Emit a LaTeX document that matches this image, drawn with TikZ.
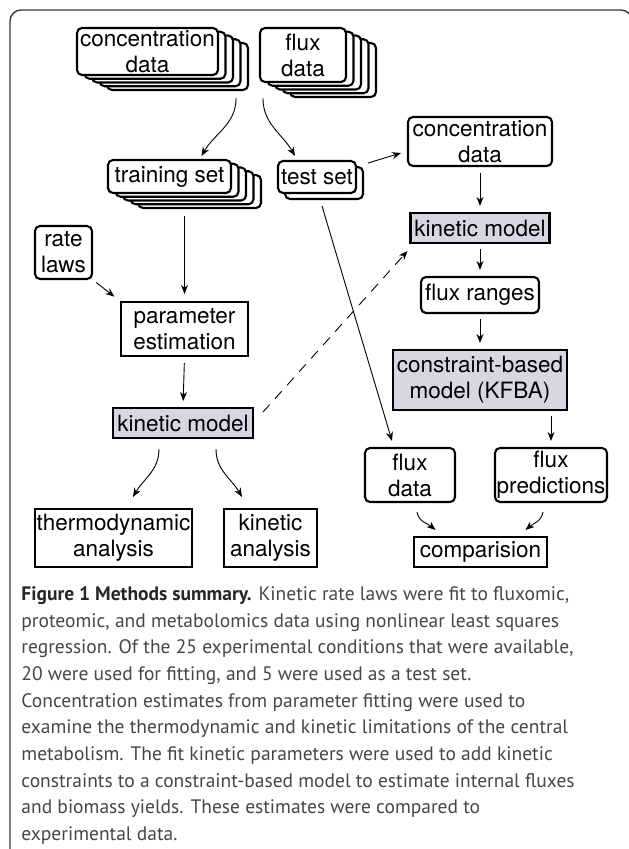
\documentclass[tikz,border=0pt]{standalone}
\usepackage{fontspec}
\setmainfont{TeX Gyre Heros}
\newfontfamily\capfont{PT Sans}
\usetikzlibrary{arrows.meta,shadows}

\definecolor{modelfill}{RGB}{216,214,226}
\definecolor{capgray}{RGB}{70,70,70}
\definecolor{framegray}{RGB}{55,55,55}

\tikzset{
  box/.style={draw, line width=2.1pt, fill=white, align=center, inner sep=1pt,
    font=\fontsize{22.5}{26}\selectfont},
  roundbox/.style={box, rounded corners=5pt},
  modelbox/.style={box, fill=modelfill},
  copyof/.style 2 args={copy shadow={shadow xshift=#1, shadow yshift=#2,
    draw=black, fill=white, line width=2.1pt}},
  pile/.style={copyof={30pt}{-15pt}, copyof={22.5pt}{-11.25pt},
    copyof={15pt}{-7.5pt}, copyof={7.5pt}{-3.75pt}},
}

\begin{document}
\begin{tikzpicture}[x=1pt, y=1pt, >={Stealth[length=9pt,width=7pt]},
    line width=0.9pt]
  \useasboundingbox (0,0) rectangle (629,-849);
  \draw[framegray, line width=1.4pt, rounded corners=11pt]
    (10,-870) -- (10,-10) -- (632,-10) -- (632,-120);

  % data piles
  \node[roundbox, pile, minimum width=141pt, minimum height=47pt] (cdata) at (147.5,-51.5) {concentration\\data};
  \node[roundbox, pile, minimum width=86pt, minimum height=54pt] (fdata) at (303,-55) {flux\\data};
  \node[roundbox, pile, minimum width=123pt, minimum height=33pt] (train) at (169.5,-176.5) {training set};
  \node[roundbox, copyof={7pt}{-6pt}, minimum width=78pt, minimum height=32pt] (test) at (317,-177) {test set};

  % left branch
  \node[roundbox, minimum width=57pt, minimum height=53pt] (rate) at (63.5,-252.5) {rate\\laws};
  \node[box, minimum width=127pt, minimum height=54pt] (param) at (184.5,-329) {parameter\\estimation};
  \node[modelbox, minimum width=140pt, minimum height=30pt] (kin1) at (183,-423) {kinetic model};
  \node[box, minimum width=157pt, minimum height=58pt] (thermo) at (113.5,-538) {thermodynamic\\analysis};
  \node[box, minimum width=93pt, minimum height=58pt] (kinan) at (270.5,-538) {kinetic\\analysis};

  % right branch
  \node[roundbox, minimum width=144pt, minimum height=49pt] (cdata2) at (480,-141.5) {concentration\\data};
  \node[modelbox, minimum width=139pt, minimum height=30pt] (kin2) at (480,-228) {kinetic model};
  \node[roundbox, minimum width=118pt, minimum height=36pt] (ranges) at (480,-295) {flux ranges};
  \node[modelbox, minimum width=174pt, minimum height=60pt] (kfba) at (480,-380) {constraint-based\\model (KFBA)};
  \node[roundbox, minimum width=90pt, minimum height=54pt] (fdata2) at (410,-475) {flux\\data};
  \node[roundbox, minimum width=112pt, minimum height=54pt] (pred) at (551,-475) {flux\\predictions};
  \node[box, minimum width=133pt, minimum height=30pt] (comp) at (480.5,-552) {comparision};

  \path[->]
    ([xshift=17pt,yshift=-22pt]cdata.south east) edge[out=-90, in=60] ([xshift=32pt,yshift=3pt]train.north)
    ([xshift=4pt,yshift=-15pt]fdata.south west) edge[out=-90, in=120] ([xshift=-22pt,yshift=4pt]test.north)
    ([xshift=11pt,yshift=14pt]test.east) edge ([yshift=-11.5pt,xshift=-6pt]cdata2.west)
    ([xshift=5pt,yshift=-12pt]test.south) edge ([xshift=-18pt,yshift=6pt]fdata2.north)
    (param.north |- train.south) edge[shorten <=22pt, shorten >=7pt] (param.north)
    (rate.south east) edge[shorten <=4pt, shorten >=7pt] (param.north west)
    (param.south) edge[shorten <=6pt, shorten >=6pt] (kin1.north)
    ([xshift=-24pt,yshift=-10pt]kin1.south) edge[out=-90, in=60] ([xshift=19.5pt,yshift=11pt]thermo.north)
    ([xshift=33pt,yshift=-10pt]kin1.south) edge[out=-90, in=120] ([xshift=-28.5pt,yshift=11pt]kinan.north)
    (cdata2.south) edge[shorten <=6pt, shorten >=6pt] (kin2.north)
    (kin2.south) edge[shorten <=5pt, shorten >=6pt] (ranges.north)
    (ranges.south) edge[shorten <=5pt, shorten >=6pt] (kfba.north)
    (pred.north |- kfba.south) edge[shorten <=5pt, shorten >=6pt] (pred.north)
    ([xshift=7pt,yshift=-9pt]fdata2.south) edge[out=-80, in=140] ([xshift=-45pt,yshift=6pt]comp.north)
    ([xshift=-8pt,yshift=-9pt]pred.south) edge[out=-100, in=40] ([xshift=45pt,yshift=6pt]comp.north);
  \draw[->, dash pattern=on 10pt off 8pt]
    ([xshift=9pt,yshift=11pt]kin1.east) -- ([xshift=-2pt,yshift=-7pt]kin2.south west);

  % caption
  \node[anchor=north west, inner sep=0pt, align=left, text=capgray,
    font=\capfont\fontsize{19.5}{26.7}\selectfont] (caption) at (21,-586)
    {{\bfseries\color{black!85}Figure 1 Methods summary.} Kinetic rate laws were fit to fluxomic,\\
     proteomic, and metabolomics data using nonlinear least squares\\
     regression. Of the 25 experimental conditions that were available,\\
     20 were used for fitting, and 5 were used as a test set.\\
     Concentration estimates from parameter fitting were used to\\
     examine the thermodynamic and kinetic limitations of the central\\
     metabolism. The fit kinetic parameters were used to add kinetic\\
     constraints to a constraint-based model to estimate internal fluxes\\
     and biomass yields. These estimates were compared to\\
     experimental data.};
\end{tikzpicture}
\end{document}
